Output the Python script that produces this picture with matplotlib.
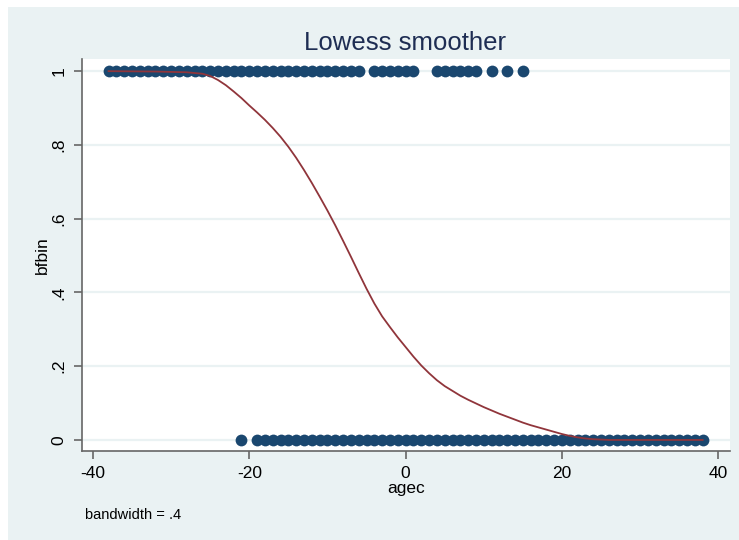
import matplotlib.pyplot as plt
from matplotlib.patches import Rectangle

# observed data: bfbin == 1 and bfbin == 0 by agec
agec_one = [-38, -37, -36, -35, -34, -33, -32, -31, -30, -29, -28, -27, -26, -25,
            -24, -23, -22, -21, -20, -19, -18, -17, -16, -15, -14, -13, -12, -11,
            -10, -9, -8, -7, -6, -4, -3, -2, -1, 0, 1, 4, 5, 6, 7, 8, 9, 11, 13, 15]
agec_zero = [-21, -19, -18, -17, -16, -15, -14, -13, -12, -11, -10, -9, -8, -7, -6,
             -5, -4, -3, -2, -1, 0, 1, 2, 3, 4, 5, 6, 7, 8, 9, 10, 11, 12, 13, 14,
             15, 16, 17, 18, 19, 20, 21, 22, 23, 24, 25, 26, 27, 28, 29, 30, 31, 32,
             33, 34, 35, 36, 37, 38]

# lowess fit
lowess_x = [-38, -32, -28, -26, -25, -24, -23, -22, -21, -20, -19, -18, -17, -16,
            -15, -14, -13, -12, -11, -10, -9, -8, -7, -6, -5, -4, -3, -2, -1, 0,
            1, 2, 3, 4, 5, 6, 7, 8, 9, 10, 11, 12, 13, 14, 15, 16, 17, 18, 19, 20,
            21, 22, 23, 24, 25, 26, 38]
lowess_y = [1.0, 0.999, 0.997, 0.993, 0.987, 0.976, 0.962, 0.945, 0.927, 0.907,
            0.888, 0.868, 0.846, 0.822, 0.795, 0.765, 0.732, 0.697, 0.66, 0.622,
            0.582, 0.54, 0.497, 0.453, 0.41, 0.37, 0.335, 0.306, 0.278, 0.252,
            0.226, 0.202, 0.181, 0.162, 0.146, 0.133, 0.12, 0.109, 0.099, 0.089,
            0.08, 0.071, 0.063, 0.055, 0.047, 0.04, 0.034, 0.028, 0.022, 0.016,
            0.011, 0.007, 0.004, 0.002, 0.001, 0.0, 0.0]

xticks = [-40, -20, 0, 20, 40]
yticks = [0, 0.2, 0.4, 0.6, 0.8, 1]
ytick_labels = ['0', '.2', '.4', '.6', '.8', '1']

bg = '#EAF2F3'
navy = '#1A476F'
maroon = '#90353B'
axcol = '#666666'

plt.rcParams['font.family'] = ['Liberation Sans', 'DejaVu Sans']

fig = plt.figure(figsize=(7.39, 5.40), dpi=100, facecolor='white')
fig.patches.append(Rectangle((8 / 739, 0), 1 - 8 / 739, 533 / 540,
                             transform=fig.transFigure, facecolor=bg,
                             edgecolor='none', zorder=-5))

ax = fig.add_axes([82 / 739, 89 / 540, 648 / 739, 392 / 540])
ax.set_zorder(2)
ax.set_facecolor('white')

for y in yticks:
    ax.axhline(y, color=bg, lw=1.6, zorder=1)

ax.scatter(agec_one, [1] * len(agec_one), s=72, color=navy, lw=0, zorder=2)
ax.scatter(agec_zero, [0] * len(agec_zero), s=72, color=navy, lw=0, zorder=2)
ax.plot(lowess_x, lowess_y, color=maroon, lw=1.3, zorder=3)

ax.set_xlim(-41.4, 41.5)
ax.set_ylim(-0.03, 1.033)
ax.set_xticks(xticks)
ax.set_xticklabels([str(v) for v in xticks])
ax.set_yticks(yticks)
ax.set_yticklabels(ytick_labels, rotation=90, va='center')

for side in ['top', 'right']:
    ax.spines[side].set_visible(False)
for side in ['left', 'bottom']:
    ax.spines[side].set_color(axcol)
    ax.spines[side].set_linewidth(1.2)
ax.tick_params(axis='both', colors=axcol, labelcolor='black', length=6,
               width=1.2, labelsize=12.5, pad=5)

ax.set_xlabel('agec', fontsize=12.5, labelpad=0)
ax.set_ylabel('bfbin', fontsize=12.5, labelpad=1)
fig.text(405 / 739, 1 - 50 / 540, 'Lowess smoother', ha='center', va='baseline',
         fontsize=18.5, color='#1E2D53', zorder=3)
fig.text(85 / 739, 1 - 515 / 540, 'bandwidth = .4', ha='left', va='center',
         fontsize=10.5, zorder=3)

fig.savefig('out.png', dpi=100, facecolor=fig.get_facecolor())
